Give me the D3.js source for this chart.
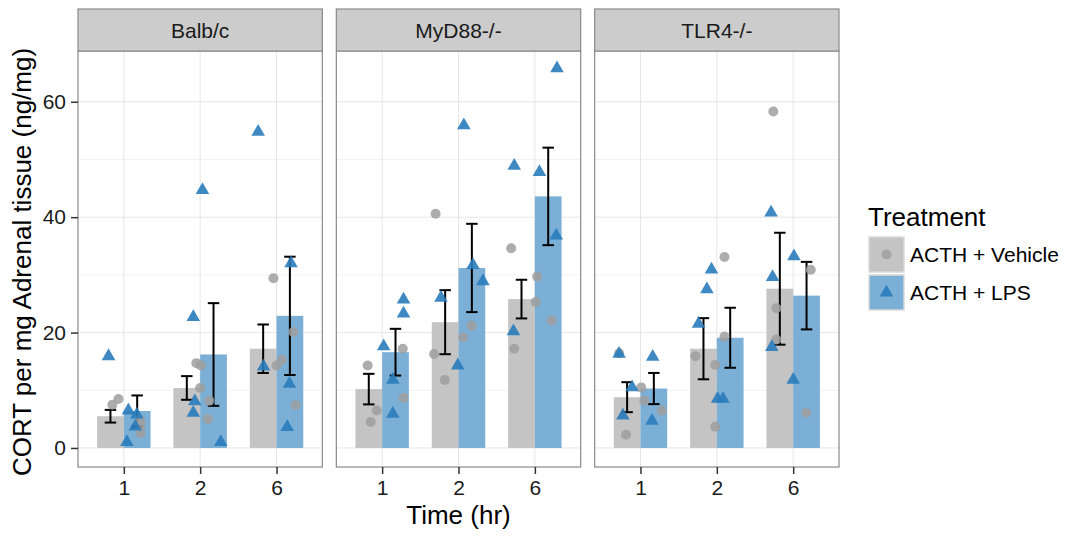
<!DOCTYPE html>
<html><head><meta charset="utf-8">
<script src="https://cdn.jsdelivr.net/npm/d3@7"></script>
<style>
html,body{margin:0;padding:0;background:#fff;}
svg{display:block;font-family:"Liberation Sans",Arial,sans-serif;}
</style></head>
<body><svg id="chart" width="1068" height="536"></svg>
<script>
const strains = ["Balb/c", "MyD88-/-", "TLR4-/-"];
const times = ["1", "2", "6"];
const treatments = ["ACTH + Vehicle", "ACTH + LPS"];
const yTicks = [0, 20, 40, 60];

// group means and standard errors [strain][time]
const vehicleMean = [[5.5, 10.4, 17.2], [10.2, 21.8, 25.8], [8.8, 17.2, 27.6]];
const vehicleSE   = [[1.1, 2.05, 4.2], [2.65, 5.55, 3.35], [2.6, 5.3, 9.7]];
const lpsMean     = [[6.4, 16.2, 22.9], [16.6, 31.2, 43.6], [10.3, 19.1, 26.4]];
const lpsSE       = [[2.7, 8.9, 10.25], [4.05, 7.65, 8.45], [2.7, 5.2, 5.85]];

// individual animals [strain][time][animal]
const vehiclePoints = [
  [[7.5, 8.5, 4.0, 2.6, 4.9], [14.7, 14.3, 10.4, 8.2, 5.0], [29.4, 20.1, 15.3, 14.3, 7.4]],
  [[14.3, 6.5, 4.5, 17.2, 8.7], [40.6, 16.3, 11.8, 19.2, 21.2], [34.6, 17.2, 29.7, 25.3, 22.1]],
  [[16.4, 2.3, 10.5, 8.2, 6.5], [33.1, 15.9, 14.4, 19.3, 3.7], [58.3, 30.9, 24.2, 18.8, 6.1]]
];
const vehicleJitter = [
  [[-0.15, -0.07, 0.22, 0.22, 0.21], [-0.05, 0.01, 0.00, 0.12, 0.10], [-0.04, 0.22, 0.07, 0.00, 0.25]],
  [[-0.19, -0.07, -0.15, 0.27, 0.28], [-0.30, -0.32, -0.18, 0.06, 0.17], [-0.31, -0.27, 0.03, 0.01, 0.22]],
  [[-0.28, -0.19, 0.01, 0.05, 0.28], [0.10, -0.28, -0.02, 0.10, -0.02], [-0.26, 0.23, -0.22, -0.22, 0.17]]
];
const lpsPoints = [
  [[15.9, 6.5, 5.8, 3.7, 1.0], [22.7, 8.1, 6.1, 1.0, 44.7], [54.8, 32.0, 14.1, 11.1, 3.6]],
  [[17.6, 25.7, 23.3, 11.8, 5.9], [55.9, 26.0, 31.7, 28.9, 14.3], [20.2, 65.8, 48.9, 47.8, 36.8]],
  [[16.3, 10.5, 5.6, 15.8, 4.7], [30.9, 27.5, 21.5, 8.5, 8.5], [40.8, 33.2, 29.6, 17.5, 11.8]]
];
const lpsJitter = [
  [[-0.20, 0.06, 0.17, 0.15, 0.04], [-0.09, -0.07, -0.09, 0.27, 0.03], [-0.24, 0.19, -0.17, 0.17, 0.14]],
  [[0.02, 0.28, 0.28, 0.14, 0.14], [0.07, -0.23, 0.19, 0.32, -0.01], [-0.28, 0.29, -0.27, 0.06, 0.28]],
  [[-0.28, -0.11, -0.23, 0.16, 0.15], [-0.07, -0.13, -0.24, 0.01, 0.08], [-0.29, 0.01, -0.27, -0.28, 0.00]]
];

const colors = {
  barFill: ["#c4c4c4", "#7bafd6"],
  point: ["#9f9f9f", "#2a7cbc"]
};

const svg = d3.select("#chart");
const panelTop = 51, panelBottom = 467, stripTop = 9;
const panelLeft = 78, panelRight = 839, gap = 14;
const panelW = (panelRight - panelLeft - gap * (strains.length - 1)) / strains.length;

const y = d3.scaleLinear().domain([-3.3, 68.8]).range([panelBottom, panelTop]);
const minorTicks = [10, 30, 50];

const treatData = [
  {mean: vehicleMean, se: vehicleSE, pts: vehiclePoints, jit: vehicleJitter},
  {mean: lpsMean, se: lpsSE, pts: lpsPoints, jit: lpsJitter}
];

strains.forEach((strain, si) => {
  const x0 = panelLeft + si * (panelW + gap);
  const x = d3.scalePoint().domain(times).range([x0, x0 + panelW]).padding(0.6);
  const step = x.step();
  const g = svg.append("g");

  // panel background and grid
  g.append("rect").attr("x", x0).attr("y", panelTop).attr("width", panelW).attr("height", panelBottom - panelTop).attr("fill", "#fff");
  g.selectAll(".minor").data(minorTicks).join("line")
    .attr("x1", x0).attr("x2", x0 + panelW)
    .attr("y1", d => y(d)).attr("y2", d => y(d))
    .attr("stroke", "#f2f2f2").attr("stroke-width", 1);
  g.selectAll(".hmajor").data(yTicks).join("line")
    .attr("x1", x0).attr("x2", x0 + panelW)
    .attr("y1", d => y(d)).attr("y2", d => y(d))
    .attr("stroke", "#e6e6e6").attr("stroke-width", 1);
  g.selectAll(".vmajor").data(times).join("line")
    .attr("x1", d => x(d)).attr("x2", d => x(d))
    .attr("y1", panelTop).attr("y2", panelBottom)
    .attr("stroke", "#e6e6e6").attr("stroke-width", 1);

  const barW = step * 0.35;
  // bars
  treatData.forEach((td, ti) => {
    times.forEach((t, k) => {
      const cx = x(t) + (ti === 0 ? -barW / 2 : barW / 2);
      g.append("rect")
        .attr("x", cx - barW / 2).attr("width", barW)
        .attr("y", y(td.mean[si][k])).attr("height", y(0) - y(td.mean[si][k]))
        .attr("fill", colors.barFill[ti]);
    });
  });
  // error bars
  treatData.forEach((td, ti) => {
    times.forEach((t, k) => {
      const cx = x(t) + (ti === 0 ? -barW / 2 : barW / 2);
      const m = td.mean[si][k], s = td.se[si][k];
      const cw = step * 0.075;
      const eg = g.append("g").attr("stroke", "#000").attr("stroke-width", 2);
      eg.append("line").attr("x1", cx).attr("x2", cx).attr("y1", y(m - s)).attr("y2", y(m + s));
      eg.append("line").attr("x1", cx - cw).attr("x2", cx + cw).attr("y1", y(m - s)).attr("y2", y(m - s));
      eg.append("line").attr("x1", cx - cw).attr("x2", cx + cw).attr("y1", y(m + s)).attr("y2", y(m + s));
    });
  });
  // points
  treatData.forEach((td, ti) => {
    times.forEach((t, k) => {
      td.pts[si][k].forEach((v, j) => {
        const px = x(t) + td.jit[si][k][j] * step;
        if (ti === 0) {
          g.append("circle").attr("cx", px).attr("cy", y(v)).attr("r", 5)
            .attr("fill", colors.point[0]).attr("fill-opacity", 0.85);
        } else {
          g.append("path").attr("d", d3.symbol(d3.symbolTriangle, 80)())
            .attr("transform", `translate(${px},${y(v)})`)
            .attr("fill", colors.point[1]).attr("fill-opacity", 0.9);
        }
      });
    });
  });

  // border
  g.append("rect").attr("x", x0).attr("y", panelTop).attr("width", panelW).attr("height", panelBottom - panelTop)
    .attr("fill", "none").attr("stroke", "#8a8a8a").attr("stroke-width", 1.2);
  // strip
  g.append("rect").attr("x", x0).attr("y", stripTop).attr("width", panelW).attr("height", panelTop - stripTop)
    .attr("fill", "#cccccc").attr("stroke", "#8a8a8a").attr("stroke-width", 1.2);
  g.append("text").attr("x", x0 + panelW / 2).attr("y", (stripTop + panelTop) / 2)
    .attr("text-anchor", "middle").attr("dominant-baseline", "central")
    .attr("font-size", 21).attr("fill", "#1a1a1a").text(strain);

  // x axis
  const xa = g.append("g").attr("transform", `translate(0,${panelBottom})`)
    .call(d3.axisBottom(x).tickSize(7).tickPadding(6));
  xa.select(".domain").remove();
  xa.selectAll(".tick line").attr("stroke", "#333").attr("stroke-width", 1.5);
  xa.selectAll(".tick text").attr("font-size", 21).attr("fill", "#1a1a1a").attr("font-family", "Liberation Sans, Arial, sans-serif");
});

// y axis
const ya = svg.append("g").attr("transform", `translate(${panelLeft},0)`)
  .call(d3.axisLeft(y).tickValues(yTicks).tickSize(7).tickPadding(5));
ya.select(".domain").remove();
ya.selectAll(".tick line").attr("stroke", "#333").attr("stroke-width", 1.5);
ya.selectAll(".tick text").attr("font-size", 21).attr("fill", "#1a1a1a").attr("font-family", "Liberation Sans, Arial, sans-serif");

// axis titles
svg.append("text").attr("x", (panelLeft + panelRight) / 2).attr("y", 524)
  .attr("text-anchor", "middle").attr("font-size", 26).attr("fill", "#000").text("Time (hr)");
svg.append("text").attr("transform", `translate(22,${(panelTop + panelBottom) / 2 + 3}) rotate(-90)`)
  .attr("text-anchor", "middle").attr("dominant-baseline", "central")
  .attr("font-size", 26).attr("fill", "#000").text("CORT per mg Adrenal tissue (ng/mg)");

// legend
const lg = svg.append("g");
lg.append("text").attr("x", 868).attr("y", 226).attr("font-size", 26).attr("fill", "#000").text("Treatment");
treatments.forEach((tr, i) => {
  const ky = 237 + i * 38;
  lg.append("rect").attr("x", 869).attr("y", ky).attr("width", 35).attr("height", 35)
    .attr("fill", colors.barFill[i]).attr("stroke", "#dadada").attr("stroke-width", 1.5);
  if (i === 0) {
    lg.append("circle").attr("cx", 886.5).attr("cy", ky + 17.5).attr("r", 5)
      .attr("fill", colors.point[0]).attr("fill-opacity", 0.85);
  } else {
    lg.append("path").attr("d", d3.symbol(d3.symbolTriangle, 80)())
      .attr("transform", `translate(886.5,${ky + 17.5})`)
      .attr("fill", colors.point[1]).attr("fill-opacity", 0.9);
  }
  lg.append("text").attr("x", 910).attr("y", ky + 17.5).attr("dominant-baseline", "central")
    .attr("font-size", 21).attr("fill", "#000").text(tr);
});
</script>
</body></html>
